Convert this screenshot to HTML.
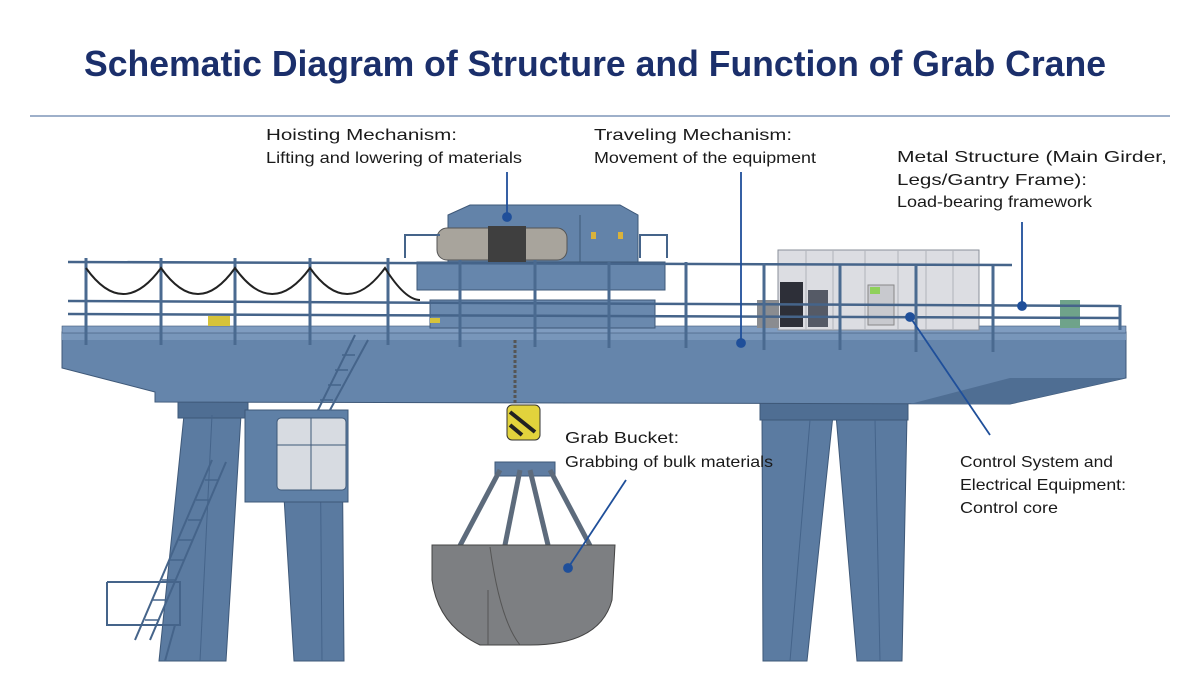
<!DOCTYPE html>
<html><head><meta charset="utf-8"><style>
html,body{margin:0;padding:0;background:#fff;width:1200px;height:688px;overflow:hidden}
svg{display:block}
text{font-family:"Liberation Sans",sans-serif}
</style></head><body>
<svg width="1200" height="688" viewBox="0 0 1200 688" xmlns="http://www.w3.org/2000/svg">
<rect width="1200" height="688" fill="#fff"/>
<text x="84" y="76" font-size="36" font-weight="bold" fill="#1b2f6b" textLength="1022" lengthAdjust="spacingAndGlyphs">Schematic Diagram of Structure and Function of Grab Crane</text>
<line x1="30" y1="116" x2="1170" y2="116" stroke="#7f95b8" stroke-width="1.5"/>

<!-- legs -->
<g stroke="#3e5878" stroke-width="1">
<polygon points="184,415 241,415 226,661 159,661" fill="#5b7ba1"/>
<polygon points="279,415 342,415 344,661 294,661" fill="#5a7aa0"/>
<polygon points="762,415 833,415 807,661 763,661" fill="#5b7ba1"/>
<polygon points="836,415 907,415 902,661 857,661" fill="#5a7aa0"/>
<rect x="178" y="400" width="70" height="18" fill="#4f6e93"/>
<rect x="760" y="402" width="148" height="18" fill="#4f6e93"/>
</g>
<line x1="212" y1="415" x2="200" y2="661" stroke="#45648a"/>
<line x1="320" y1="415" x2="322" y2="661" stroke="#45648a"/>
<line x1="810" y1="420" x2="790" y2="661" stroke="#45648a"/>
<line x1="875" y1="420" x2="880" y2="661" stroke="#45648a"/>

<!-- girder -->
<polygon points="62,332 1126,332 1126,378 1010,404 155,402 155,392 62,368" fill="#6585ab" stroke="#3e5878"/>
<polygon points="62,332 1126,332 1126,340 62,340" fill="#7896ba"/>
<polygon points="910,404 1010,378 1126,378 1010,404" fill="#4f6e93"/>
<rect x="62" y="326" width="1064" height="7" fill="#7f9cc0" stroke="#3e5878" stroke-width="0.6"/>

<!-- cab -->
<rect x="245" y="410" width="103" height="92" fill="#5f80a6" stroke="#3e5878"/>
<rect x="277" y="418" width="69" height="72" rx="4" fill="#d7dbe1" stroke="#3e5878"/>
<line x1="311" y1="418" x2="311" y2="490" stroke="#3e5878"/>
<line x1="277" y1="445" x2="346" y2="445" stroke="#3e5878"/>

<!-- stairs -->
<g stroke="#45648a" stroke-width="2" fill="none">
<line x1="355" y1="335" x2="318" y2="410"/><line x1="368" y1="340" x2="330" y2="410"/>
<line x1="212" y1="460" x2="135" y2="640"/><line x1="226" y1="462" x2="150" y2="640"/>
<polyline points="107,582 180,582 180,625 107,625 107,582"/>
<line x1="175" y1="625" x2="165" y2="661"/>
</g>
<g stroke="#45648a" stroke-width="1.5">
<line x1="320" y1="400" x2="333" y2="400"/><line x1="328" y1="385" x2="341" y2="385"/><line x1="335" y1="370" x2="348" y2="370"/><line x1="342" y1="355" x2="355" y2="355"/>
<line x1="205" y1="480" x2="219" y2="480"/><line x1="196" y1="500" x2="210" y2="500"/><line x1="188" y1="520" x2="202" y2="520"/><line x1="179" y1="540" x2="193" y2="540"/><line x1="170" y1="560" x2="184" y2="560"/><line x1="162" y1="580" x2="176" y2="580"/><line x1="153" y1="600" x2="167" y2="600"/><line x1="145" y1="620" x2="159" y2="620"/>
</g>

<!-- trolley -->
<rect x="417" y="262" width="248" height="28" fill="#6686ac" stroke="#3e5878"/>
<rect x="430" y="300" width="225" height="28" fill="#6a89ae" stroke="#3e5878"/>
<polygon points="448,215 470,205 620,205 638,215 638,262 448,262" fill="#6383a9" stroke="#3e5878"/>
<line x1="580" y1="215" x2="580" y2="262" stroke="#3e5878"/>
<rect x="591" y="232" width="5" height="7" fill="#d9b23a"/><rect x="618" y="232" width="5" height="7" fill="#d9b23a"/>
<rect x="437" y="228" width="130" height="32" rx="10" fill="#a8a49c" stroke="#555"/>
<rect x="488" y="226" width="38" height="36" fill="#3f3f3f"/>
<g stroke="#45648a" stroke-width="2" fill="none">
<polyline points="405,258 405,235 440,235"/><polyline points="640,258 640,235 667,235 667,258"/>
</g>
<rect x="430" y="318" width="10" height="5" fill="#d6c33a"/>
<rect x="208" y="316" width="22" height="10" fill="#d6c33a"/>

<!-- cabinets -->
<rect x="778" y="250" width="201" height="80" fill="#dcdde2" stroke="#8a8f99"/>
<g stroke="#b0b4bb"><line x1="806" y1="250" x2="806" y2="330"/><line x1="833" y1="250" x2="833" y2="330"/><line x1="865" y1="250" x2="865" y2="330"/><line x1="898" y1="250" x2="898" y2="330"/><line x1="926" y1="250" x2="926" y2="330"/><line x1="953" y1="250" x2="953" y2="330"/></g>
<rect x="780" y="282" width="23" height="45" fill="#2d2f38"/>
<rect x="808" y="290" width="20" height="37" fill="#555a66"/>
<rect x="868" y="285" width="26" height="40" fill="#c8c9ce" stroke="#888"/>
<rect x="870" y="287" width="10" height="7" fill="#8fd05a"/>
<rect x="757" y="300" width="22" height="28" fill="#8a8c90"/>
<rect x="1060" y="300" width="20" height="28" fill="#6fa38a"/>

<!-- railings -->
<g stroke="#45648a" stroke-width="2.5" fill="none">
<line x1="68" y1="262" x2="1012" y2="265"/>
<line x1="68" y1="301" x2="1120" y2="306"/>
<line x1="68" y1="314" x2="1120" y2="318"/>
</g>
<g stroke="#4a6a90" stroke-width="3">
<line x1="86" y1="258" x2="86" y2="345"/><line x1="161" y1="258" x2="161" y2="345"/><line x1="235" y1="258" x2="235" y2="345"/><line x1="310" y1="258" x2="310" y2="345"/><line x1="388" y1="258" x2="388" y2="345"/><line x1="460" y1="260" x2="460" y2="347"/><line x1="535" y1="260" x2="535" y2="347"/><line x1="609" y1="262" x2="609" y2="348"/><line x1="686" y1="262" x2="686" y2="348"/><line x1="764" y1="263" x2="764" y2="350"/><line x1="840" y1="265" x2="840" y2="350"/><line x1="916" y1="266" x2="916" y2="352"/><line x1="993" y1="266" x2="993" y2="352"/><line x1="1120" y1="305" x2="1120" y2="330"/>
</g>
<g stroke="#222" stroke-width="2" fill="none">
<path d="M86 268 Q123 320 161 268 Q198 320 235 268 Q272 320 310 268 Q347 320 385 268 Q405 300 420 300"/>
</g>

<!-- hook & bucket -->
<line x1="515" y1="340" x2="515" y2="405" stroke="#555" stroke-width="3" stroke-dasharray="3,2"/>
<rect x="507" y="405" width="33" height="35" rx="5" fill="#e2d33c" stroke="#333"/>
<path d="M510 412 L535 432 M510 425 L522 435" stroke="#222" stroke-width="4"/>
<rect x="495" y="462" width="60" height="14" fill="#5f7da2" stroke="#3e5878"/>
<g stroke="#5d6b7c" stroke-width="5" fill="none"><line x1="500" y1="470" x2="455" y2="555"/><line x1="550" y1="470" x2="595" y2="555"/><line x1="520" y1="470" x2="505" y2="545"/><line x1="530" y1="470" x2="548" y2="545"/></g>
<path d="M432 545 L615 545 L612 600 Q600 645 530 645 L480 645 Q438 625 432 580 Z" fill="#7d7f82" stroke="#444"/>
<path d="M490 547 Q500 620 520 645" stroke="#555" fill="none"/>
<line x1="488" y1="590" x2="488" y2="645" stroke="#555"/>

<!-- leaders -->
<g stroke="#1f4f9a" stroke-width="1.8" fill="#1f4f9a">
<line x1="507" y1="172" x2="507" y2="217"/><circle cx="507" cy="217" r="4"/>
<line x1="741" y1="172" x2="741" y2="343"/><circle cx="741" cy="343" r="4"/>
<line x1="1022" y1="222" x2="1022" y2="306"/><circle cx="1022" cy="306" r="4"/>
<line x1="990" y1="435" x2="910" y2="317"/><circle cx="910" cy="317" r="4"/>
<line x1="626" y1="480" x2="568" y2="568"/><circle cx="568" cy="568" r="4"/>
</g>

<!-- labels -->
<g font-size="16" fill="#1a1a1a">
<text x="266" y="140" textLength="191" lengthAdjust="spacingAndGlyphs">Hoisting Mechanism:</text>
<text x="266" y="163" textLength="256" lengthAdjust="spacingAndGlyphs">Lifting and lowering of materials</text>
<text x="594" y="140" textLength="198" lengthAdjust="spacingAndGlyphs">Traveling Mechanism:</text>
<text x="594" y="163" textLength="222" lengthAdjust="spacingAndGlyphs">Movement of the equipment</text>
<text x="897" y="162" textLength="270" lengthAdjust="spacingAndGlyphs">Metal Structure (Main Girder,</text>
<text x="897" y="185" textLength="190" lengthAdjust="spacingAndGlyphs">Legs/Gantry Frame):</text>
<text x="897" y="207" textLength="195" lengthAdjust="spacingAndGlyphs">Load-bearing framework</text>
<text x="565" y="443" textLength="114" lengthAdjust="spacingAndGlyphs">Grab Bucket:</text>
<text x="565" y="467" textLength="208" lengthAdjust="spacingAndGlyphs">Grabbing of bulk materials</text>
<text x="960" y="467" textLength="153" lengthAdjust="spacingAndGlyphs">Control System and</text>
<text x="960" y="490" textLength="166" lengthAdjust="spacingAndGlyphs">Electrical Equipment:</text>
<text x="960" y="513" textLength="98" lengthAdjust="spacingAndGlyphs">Control core</text>
</g>
</svg>
</body></html>
